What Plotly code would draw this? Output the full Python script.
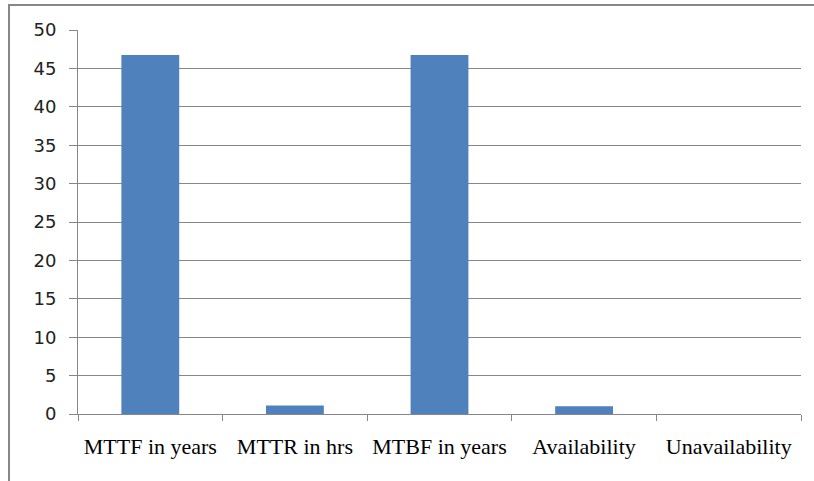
import plotly.graph_objects as go

# Reliability metrics
categories = ["MTTF in years", "MTTR in hrs", "MTBF in years", "Availability", "Unavailability"]
values = [46.75, 1.1, 46.75, 1.0, 0.0]
y_ticks = [0, 5, 10, 15, 20, 25, 30, 35, 40, 45, 50]

W, H = 814, 481
ml, mr, mt, mb = 78, 13, 30, 67

fig = go.Figure(
    go.Bar(
        x=categories,
        y=values,
        marker=dict(color="#4F81BD", line=dict(width=0)),
    )
)

pw = W - ml - mr
ph = H - mt - mb

def px_x(p):
    return (p - ml) / pw

def px_y(p):
    return (H - mb - p) / ph

fig.update_layout(
    width=W,
    height=H,
    margin=dict(l=ml, r=mr, t=mt, b=mb, pad=0),
    paper_bgcolor="white",
    plot_bgcolor="white",
    bargap=0.6,
    showlegend=False,
    xaxis=dict(
        type="category",
        tickson="boundaries",
        ticks="outside",
        ticklen=6,
        tickcolor="#878787",
        showline=True,
        linecolor="#878787",
        linewidth=1,
        showgrid=False,
        tickfont=dict(family="Liberation Serif", size=22, color="black"),
        ticklabelstandoff=13,
    ),
    yaxis=dict(
        range=[0, 50],
        tickvals=y_ticks,
        ticks="outside",
        ticklen=8,
        tickcolor="#878787",
        showline=True,
        linecolor="#878787",
        linewidth=1,
        showgrid=True,
        gridcolor="#878787",
        gridwidth=1,
        zeroline=False,
        tickfont=dict(family="DejaVu Sans", size=18, color="#222222"),
        ticklabelstandoff=9,
    ),
    shapes=[
        dict(
            type="rect",
            xref="paper",
            yref="paper",
            x0=px_x(9),
            x1=px_x(830),
            y0=px_y(500),
            y1=px_y(5),
            line=dict(color="#878787", width=2),
            fillcolor="rgba(0,0,0,0)",
            layer="below",
        )
    ],
)

fig.write_html("out.html")
